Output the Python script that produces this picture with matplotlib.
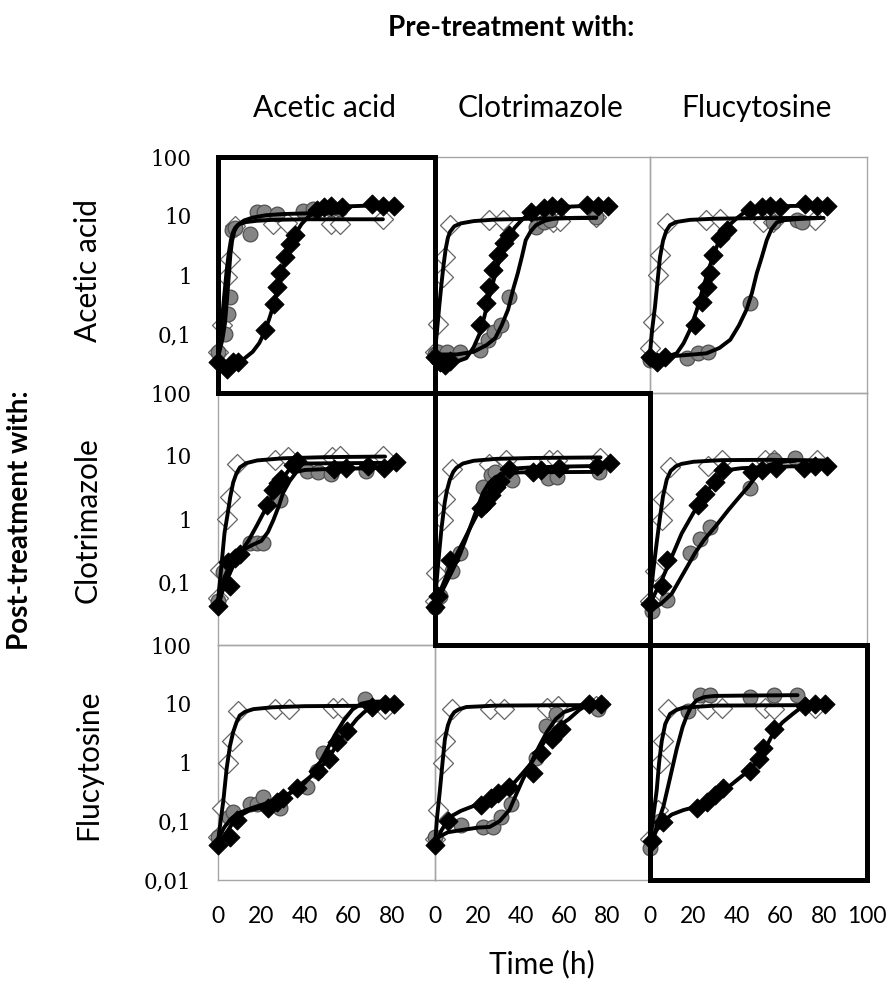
import matplotlib
matplotlib.use("Agg")
import matplotlib.pyplot as plt
from matplotlib import font_manager as fm

# ---------------- data ----------------
pre_treatments = ["Acetic acid", "Clotrimazole", "Flucytosine"]
post_treatments = ["Acetic acid", "Clotrimazole", "Flucytosine"]
ytick_vals = [0.01, 0.1, 1, 10, 100]
ytick_text = ["0,01", "0,1", "1", "10", "100"]
xtick_vals = [0, 20, 40, 60, 80, 100]

# panel p<row><col>: row = post-treatment, col = pre-treatment
# open diamonds / grey circles / black diamonds, measured points
p00_open_t = [0, 1.7, 4, 5.5, 8, 25.5, 32, 52, 56, 76]
p00_open_y = [0.05, 0.14, 0.92, 1.9, 6.9, 7.2, 7.5, 7.2, 7.2, 8.8]
p00_grey_t = [0, 3.2, 4.8, 5.5, 6.3, 8, 14.7, 17.8, 21, 27, 39, 44, 52, 56]
p00_grey_y = [0.05, 0.1, 0.22, 0.42, 5.7, 6.2, 5.0, 11.7, 11.7, 11, 12, 13, 13, 13]
p00_black_t = [0, 4, 7, 9, 21.6, 26, 27, 28.5, 31, 33, 35.5, 45.5, 49, 52, 57, 71, 76, 81]
p00_black_y = [0.033, 0.026, 0.033, 0.034, 0.115, 0.32, 0.62, 1.1, 2.0, 3.4, 4.7, 12.5, 14, 15, 14, 16, 15, 15]

p01_open_t = [0, 1.5, 3.8, 4.6, 6.9, 25.3, 31.5, 55, 58, 75]
p01_open_y = [0.05, 0.15, 0.93, 2.0, 7, 8.5, 8.5, 8, 8.3, 9.5]
p01_grey_t = [0, 1.5, 5.4, 11.5, 20.7, 24.6, 27.6, 30.7, 34.6, 46.9, 50.7, 53.7, 75]
p01_grey_y = [0.045, 0.05, 0.05, 0.05, 0.054, 0.08, 0.11, 0.14, 0.43, 6.6, 8, 8.5, 9.5]
p01_black_t = [0, 2.3, 4.6, 6.9, 20.7, 23.8, 25.3, 26.9, 29.2, 32.3, 34.6, 44.6, 50.7, 54.5, 58.4, 70.7, 76, 80.6]
p01_black_y = [0.04, 0.034, 0.03, 0.035, 0.14, 0.33, 0.63, 1.2, 2.2, 3.45, 4.8, 11.8, 13.5, 15, 14, 15.5, 15, 15]

p02_open_t = [0, 1.5, 3.8, 4.6, 7.7, 26, 32.3, 52.2, 56.8, 76]
p02_open_y = [0.057, 0.16, 1.0, 2.2, 7.5, 8.5, 9, 8, 8, 8.5]
p02_grey_t = [0, 16.9, 22.3, 26.9, 46, 56.8, 67.6, 70]
p02_grey_y = [0.036, 0.039, 0.047, 0.05, 0.33, 8, 8.5, 8]
p02_black_t = [0, 3.1, 6.9, 20.7, 23.8, 26.1, 27.6, 29.2, 32.3, 35.3, 46, 51.5, 55.3, 59.9, 71.4, 76.8, 81.4]
p02_black_y = [0.04, 0.033, 0.04, 0.14, 0.35, 0.63, 1.07, 2.2, 4.2, 5.8, 12.6, 14, 15, 14, 16, 15, 15]

p10_open_t = [0, 0.9, 4, 5.5, 8.6, 26.3, 32.4, 52.5, 56.4, 76.2]
p10_open_y = [0.055, 0.155, 1.0, 2.25, 7.6, 8.7, 9.7, 9.5, 10, 10]
p10_grey_t = [0, 2.3, 14.7, 17.8, 20.9, 28.6, 40.9, 46, 52, 68]
p10_grey_y = [0.05, 0.145, 0.41, 0.41, 0.42, 2.0, 5.8, 5.5, 5.2, 5.8]
p10_black_t = [0, 4.8, 5.5, 7.8, 10.1, 22.4, 25.5, 27.6, 29, 34.7, 36.2, 53.5, 58.9, 68.9, 76.5, 81.9]
p10_black_y = [0.041, 0.21, 0.085, 0.24, 0.28, 1.66, 2.9, 3.7, 4.3, 7.2, 8.2, 6.3, 6.5, 7, 6.5, 8]

p11_open_t = [0, 0.3, 3.8, 4.6, 7.7, 25.3, 33, 53, 56.8, 76.8]
p11_open_y = [0.05, 0.14, 0.96, 2.1, 6.3, 7.6, 8.7, 8.7, 8.7, 9.2]
p11_grey_t = [0, 2.3, 8, 11.5, 22.3, 26.1, 28, 36, 52.5, 56.8, 76.3]
p11_grey_y = [0.04, 0.06, 0.15, 0.29, 3.2, 5, 5.5, 4.2, 4.4, 4.6, 5.6]
p11_black_t = [0, 1.5, 6.9, 21.5, 23.8, 26, 28.4, 30, 34.6, 45.6, 49.5, 57.9, 75.3, 81.3]
p11_black_y = [0.04, 0.06, 0.22, 1.47, 1.78, 2.4, 3.2, 4, 6.3, 5.5, 6, 6.5, 7, 7.8]

p12_open_t = [0, 2.3, 5.4, 6.2, 9.2, 26.9, 33.1, 53, 57, 77]
p12_open_y = [0.05, 0.15, 0.96, 2.1, 6.8, 7, 8.7, 8.7, 8.7, 8.7]
p12_grey_t = [1, 7.7, 18.5, 23, 27.7, 46.2, 57, 67]
p12_grey_y = [0.035, 0.052, 0.29, 0.49, 0.76, 3.1, 8.7, 9.3]
p12_black_t = [0, 5.4, 7.7, 22.3, 25.4, 30, 33.8, 47, 51.5, 58, 70.8, 76, 81.5]
p12_black_y = [0.045, 0.085, 0.22, 1.66, 2.5, 3.9, 6, 5.5, 6, 6.5, 6.5, 7, 7]

p20_open_t = [0, 1.7, 4.8, 6.3, 9.4, 26.3, 32.5, 53, 57, 77]
p20_open_y = [0.054, 0.165, 1.0, 2.3, 7.6, 8.2, 8.2, 8.5, 8.5, 8.2]
p20_grey_t = [0, 5, 7.1, 14.8, 17.8, 20.9, 28.6, 40.9, 45.5, 48.6, 67.8]
p20_grey_y = [0.055, 0.12, 0.145, 0.2, 0.2, 0.26, 0.165, 0.39, 0.71, 1.47, 12.2]
p20_black_t = [0, 5.5, 8.6, 23.2, 27, 30, 36.3, 46.3, 51, 54.8, 59.4, 71, 77, 81]
p20_black_y = [0.039, 0.055, 0.104, 0.165, 0.21, 0.25, 0.37, 0.71, 1.13, 2.2, 3.5, 8.8, 10, 10]

p21_open_t = [0, 1.5, 3.8, 4.6, 7.7, 25.4, 32.3, 52.3, 57, 75]
p21_open_y = [0.05, 0.155, 1.0, 2.3, 8.2, 8.2, 8.2, 8.5, 9.3, 9]
p21_grey_t = [0, 12.3, 22.3, 27, 30.8, 35.4, 47, 51.5, 56.2, 76]
p21_grey_y = [0.055, 0.085, 0.08, 0.08, 0.118, 0.2, 1.2, 4.2, 6.7, 8.2]
p21_black_t = [0, 6.2, 21.5, 26.2, 29.2, 34.6, 45.4, 49.2, 54.6, 58.5, 71.5, 77]
p21_black_y = [0.04, 0.1, 0.19, 0.25, 0.3, 0.39, 0.66, 1.47, 2.5, 3.7, 10, 10]

p22_open_t = [0, 3.8, 4.6, 6.2, 8.5, 26.2, 33, 53, 57, 76]
p22_open_y = [0.05, 0.155, 1.0, 2.3, 8.2, 8.2, 8.5, 8.5, 8.2, 8.5]
p22_grey_t = [0, 4.6, 17.7, 23, 27.7, 46, 57, 67.7]
p22_grey_y = [0.035, 0.1, 7.6, 13.9, 13.9, 13, 14, 14]
p22_black_t = [0.8, 6.2, 21.5, 26.2, 30, 33.8, 46.2, 50, 52.3, 57, 71.5, 76.2, 80.8]
p22_black_y = [0.047, 0.098, 0.165, 0.21, 0.28, 0.37, 0.71, 1.13, 1.78, 3.7, 9, 10, 10]

# fitted curves
p00_open_fit_t = [0, 1, 2, 3, 4, 5, 6, 7, 8, 10, 13, 18, 25, 40, 76]
p00_open_fit_y = [0.045, 0.09, 0.2, 0.5, 1.2, 2.4, 4, 5.4, 6.4, 7.3, 7.9, 8.3, 8.6, 8.8, 8.8]
p00_grey_fit_t = [0, 2, 3.2, 4.2, 5, 5.7, 6.5, 7.5, 9, 12, 16, 22, 30, 45, 56]
p00_grey_fit_y = [0.04, 0.08, 0.15, 0.4, 1, 2.2, 3.8, 5.5, 7, 8.4, 9.4, 10.3, 10.8, 11.2, 11.4]
p00_black_fit_t = [0, 4, 8, 12, 16, 19, 21.6, 24, 26, 28, 30, 32, 34, 36, 38.5, 42, 46, 52, 60, 70, 81]
p00_black_fit_y = [0.035, 0.03, 0.032, 0.038, 0.05, 0.07, 0.11, 0.2, 0.35, 0.7, 1.3, 2.2, 3.5, 5.2, 7.3, 10, 12.2, 13.8, 14.6, 15, 15.2]

p01_open_fit_t = [0, 1, 2, 3, 4, 5, 6, 7, 9, 12, 18, 28, 45, 75]
p01_open_fit_y = [0.05, 0.12, 0.3, 0.7, 1.5, 2.8, 4.3, 5.4, 6.7, 7.5, 8.2, 8.7, 9, 9.3]
p01_grey_fit_t = [0, 10, 18, 24, 28, 31, 34, 36.5, 38.5, 40.5, 42.2, 44.5, 47, 51, 56, 65, 75]
p01_grey_fit_y = [0.045, 0.045, 0.05, 0.065, 0.085, 0.14, 0.26, 0.6, 1.07, 2.1, 3.9, 5.5, 7, 8.3, 9.1, 9.3, 9.4]
p01_black_fit_t = [0, 5, 10, 14.6, 18, 20.7, 23, 25, 26.9, 29, 31, 33, 34.6, 37, 40, 43.8, 47, 51.5, 60, 70, 81]
p01_black_fit_y = [0.035, 0.032, 0.034, 0.039, 0.06, 0.1, 0.2, 0.4, 0.72, 1.4, 2.3, 3.4, 4.5, 6.3, 8.3, 11, 12.3, 13.5, 14.3, 14.8, 15]

p02_open_fit_t = [0, 1, 2.3, 3.5, 4.6, 6, 7.5, 9.2, 12, 18.4, 30, 50, 78]
p02_open_fit_y = [0.047, 0.12, 0.29, 0.8, 2, 3.8, 5.6, 7, 7.9, 8.6, 9, 9.2, 9.3]
p02_grey_fit_t = [0, 10, 20, 26, 32, 37, 41, 44.5, 47, 49.2, 51.5, 53.8, 56, 58.4, 62, 69, 80]
p02_grey_fit_y = [0.04, 0.042, 0.045, 0.047, 0.058, 0.08, 0.14, 0.26, 0.5, 1.07, 2, 3.9, 6, 7.8, 8.5, 8.9, 9.3]
p02_black_fit_t = [0, 5, 12.3, 15.5, 18.4, 21.5, 24.6, 27.5, 30.7, 33.5, 36.5, 39.9, 43.5, 47.6, 55, 65, 83]
p02_black_fit_y = [0.04, 0.038, 0.047, 0.07, 0.117, 0.25, 0.63, 1.4, 3.0, 5, 7, 9.1, 11.5, 13.5, 14.4, 14.8, 15]

p10_open_fit_t = [0, 1.5, 3, 4.6, 5.6, 7, 8.5, 10.1, 13, 18, 30, 50, 77]
p10_open_fit_y = [0.05, 0.17, 0.6, 1.3, 2.2, 3.8, 5.3, 6.6, 7.7, 8.5, 9.2, 9.6, 9.8]
p10_grey_fit_t = [0, 3, 6, 9, 12, 16, 20, 23, 25.5, 28, 30, 33, 36.2, 40, 50, 70, 80]
p10_grey_fit_y = [0.05, 0.12, 0.2, 0.27, 0.33, 0.39, 0.45, 0.62, 0.96, 1.6, 2.6, 4, 5.6, 6, 6.2, 6.4, 6.6]
p10_black_fit_t = [0, 2, 4, 7, 10.1, 14, 18, 22.4, 26, 30, 33, 36, 40, 60, 82]
p10_black_fit_y = [0.04, 0.07, 0.107, 0.18, 0.29, 0.45, 0.8, 1.55, 2.7, 4.5, 6.2, 7.3, 7.6, 7.7, 7.8]

p11_open_fit_t = [0, 1.5, 3, 4.5, 5.5, 6.9, 8.5, 10, 13, 18, 28.4, 45, 77]
p11_open_fit_y = [0.05, 0.2, 0.7, 1.8, 2.8, 4.2, 5.6, 6.5, 7.6, 8.4, 9.0, 9.3, 9.5]
p11_grey_fit_t = [0, 4, 8, 11.5, 14, 17, 20, 22.3, 25, 28, 31.5, 36, 40, 77]
p11_grey_fit_y = [0.04, 0.08, 0.15, 0.27, 0.45, 0.85, 1.6, 2.6, 3.7, 4.6, 5.2, 5.4, 5.5, 5.6]
p11_black_fit_t = [0, 3, 6.9, 10, 14, 17, 20.7, 24, 27, 30, 33, 36, 45, 60, 81]
p11_black_fit_y = [0.04, 0.08, 0.17, 0.27, 0.5, 0.8, 1.4, 2.1, 3.2, 4.4, 5.7, 6.3, 6.6, 6.8, 7]

p12_open_fit_t = [0, 1.5, 3, 4.5, 6, 7.7, 9.5, 12, 14.6, 20, 33, 55, 81.5]
p12_open_fit_y = [0.05, 0.15, 0.4, 1, 2.3, 4.2, 5.8, 6.9, 7.5, 8.1, 8.6, 8.7, 8.5]
p12_grey_fit_t = [0, 5, 10, 15, 20.8, 25, 30, 36.2, 41, 45.4, 48.5, 51.5, 55, 60, 67]
p12_grey_fit_y = [0.035, 0.045, 0.065, 0.13, 0.29, 0.47, 0.75, 1.4, 2.2, 3.3, 4.6, 6, 7.2, 8.0, 8.4]
p12_black_fit_t = [0, 2.7, 5.4, 10, 14.6, 20, 26.9, 31, 36.2, 42, 60, 82]
p12_black_fit_y = [0.045, 0.07, 0.107, 0.25, 0.59, 1.25, 2.9, 4.5, 6, 6.4, 6.8, 7]

p20_open_fit_t = [0, 1.2, 2.5, 4, 5.5, 7, 8.5, 10, 12.5, 16.3, 25, 40, 80]
p20_open_fit_y = [0.045, 0.1, 0.23, 0.8, 1.9, 3.3, 4.8, 6.3, 7.3, 8.1, 8.7, 9.1, 9.3]
p20_grey_fit_t = [0, 3, 6, 10, 16, 22, 28, 34, 40, 44, 47, 50, 54, 58, 62, 66, 70, 80]
p20_grey_fit_y = [0.05, 0.08, 0.11, 0.14, 0.17, 0.2, 0.24, 0.31, 0.45, 0.65, 1.0, 1.6, 3, 5.2, 8, 10, 10.8, 11]
p20_black_fit_t = [0, 4, 7.1, 11, 14.8, 20, 26, 32, 38, 44, 50, 54, 58, 61, 64, 67, 70.2, 75, 82]
p20_black_fit_y = [0.04, 0.065, 0.097, 0.13, 0.155, 0.17, 0.21, 0.28, 0.42, 0.63, 1.05, 1.8, 3, 4, 5.5, 7, 8.8, 9.8, 10]

p21_open_fit_t = [0, 1, 2.3, 3.5, 4.6, 6, 7.5, 9, 11, 14.6, 28.5, 50, 76]
p21_open_fit_y = [0.04, 0.12, 0.34, 1, 2.5, 4.3, 6, 7.2, 8, 8.8, 9.3, 9.4, 9.5]
p21_grey_fit_t = [0, 6, 11.5, 20, 25.4, 30, 34.6, 38, 40.8, 44.5, 48.5, 52, 56.2, 60, 66.9, 76]
p21_grey_fit_y = [0.05, 0.065, 0.07, 0.078, 0.08, 0.1, 0.155, 0.3, 0.51, 0.95, 1.9, 3.3, 5.5, 7.2, 8.8, 9.3]
p21_black_fit_t = [0, 3, 6.9, 12, 20.8, 28, 35, 40.8, 45, 48, 51.5, 56, 62.3, 67, 71.5, 80]
p21_black_fit_y = [0.04, 0.07, 0.118, 0.15, 0.2, 0.27, 0.38, 0.66, 1.0, 1.5, 2.5, 3.8, 5.5, 7.8, 10, 10.5]

p22_open_fit_t = [0, 1.5, 3.1, 4.2, 5.4, 7, 9.2, 12, 15.4, 30, 77]
p22_open_fit_y = [0.04, 0.12, 0.34, 1, 2.3, 4.5, 6.7, 7.8, 8.6, 9.3, 9.5]
p22_grey_fit_t = [0, 3, 6.2, 9, 12.3, 15, 17, 19, 21.5, 25, 30, 45, 68]
p22_grey_fit_y = [0.035, 0.08, 0.18, 0.5, 1.7, 4, 6.3, 9, 11.5, 13, 13.6, 13.8, 14]
p22_black_fit_t = [0, 3, 6.2, 10, 15.4, 22, 28, 34, 40, 46, 50, 53, 56.9, 61, 66, 70.8, 76, 81]
p22_black_fit_y = [0.04, 0.07, 0.1, 0.13, 0.155, 0.18, 0.23, 0.33, 0.5, 0.75, 1.1, 1.7, 3.2, 4.8, 6.8, 9.3, 9.9, 10]

# ---------------- assembly ----------------
g = globals()
panels = {}
for r in range(3):
    for c in range(3):
        k = f"p{r}{c}"
        panels[(r, c)] = {s: (g[f"{k}_{s}_t"], g[f"{k}_{s}_y"],
                              g[f"{k}_{s}_fit_t"], g[f"{k}_{s}_fit_y"])
                          for s in ("open", "grey", "black")}

# ---------------- style ----------------
avail = {f.name for f in fm.fontManager.ttflist}
SANS = "Lato" if "Lato" in avail else "DejaVu Sans"
SERIF = "DejaVu Serif"

W, H = 892, 984
fig = plt.figure(figsize=(W / 100, H / 100), dpi=100)
fig.patch.set_facecolor("white")

col_left = [218, 435, 650]
col_right = [435, 650, 867]
row_top = [157, 393, 645]
row_bot = [393, 645, 880]

marker_style = {
    "open": dict(marker="D", s=10.2 ** 2, facecolor="white", edgecolor="#666666", linewidth=0.9, zorder=3),
    "grey": dict(marker="o", s=10.6 ** 2, facecolor="#858585", edgecolor="#505050", linewidth=0.9, zorder=4),
    "black": dict(marker="D", s=9.6 ** 2, facecolor="black", edgecolor="black", linewidth=0.8, zorder=5),
}

axes = {}
order = [(r, c) for r in range(3) for c in range(3) if r != c] + [(i, i) for i in range(3)]
for (r, c) in order:
    x0 = col_left[c] / W
    w = (col_right[c] - col_left[c]) / W
    y0 = 1 - row_bot[r] / H
    h = (row_bot[r] - row_top[r]) / H
    ax = fig.add_axes([x0, y0, w, h])
    ax.set_facecolor("none")
    ax.set_yscale("log")
    ax.set_xlim(0, 100)
    ax.set_ylim(0.01, 100)
    ax.minorticks_off()
    data = panels[(r, c)]
    for s in ("open", "grey", "black"):
        t, y, ft, fy = data[s]
        ax.scatter(t, y, clip_on=False, **marker_style[s])
    for s in ("open", "grey", "black"):
        t, y, ft, fy = data[s]
        ax.plot(ft, fy, color="black", lw=2.8, solid_capstyle="round",
                solid_joinstyle="round", zorder=6, clip_on=False)
    diag = (r == c)
    for sp in ax.spines.values():
        if diag:
            sp.set_color("black")
            sp.set_linewidth(3.6)
            sp.set_zorder(8)
        else:
            sp.set_color("#a6a6a6")
            sp.set_linewidth(1.0)
            sp.set_zorder(2)
    ax.tick_params(length=0)
    if c == 0:
        if r == 2:
            vals, labs = ytick_vals, ytick_text
        else:
            vals, labs = ytick_vals[1:], ytick_text[1:]
        ax.set_yticks(vals)
        ax.set_yticklabels(labs, fontfamily=SERIF, fontsize=15.5)
        ax.tick_params(axis="y", pad=19)
    else:
        ax.set_yticks([])
    if r == 2:
        xv = xtick_vals if c == 2 else xtick_vals[:-1]
        ax.set_xticks(xv)
        ax.set_xticklabels([str(v) for v in xv], fontfamily=SANS, fontsize=16.5)
        ax.tick_params(axis="x", pad=19)
    else:
        ax.set_xticks([])
    axes[(r, c)] = ax

# ---------------- texts ----------------
def fx(px):
    return px / W

def fy(py):
    return 1 - py / H

fig.text(fx(511), fy(28), "Pre-treatment with:", fontfamily=SANS, fontweight="bold",
         fontsize=20, ha="center", va="center")
for c, name in enumerate(pre_treatments):
    fig.text(fx((col_left[c] + col_right[c]) / 2 - 2), fy(108), name, fontfamily=SANS,
             fontsize=21.5, ha="center", va="center")
fig.text(fx(20), fy(520), "Post-treatment with:", fontfamily=SANS, fontweight="bold",
         fontsize=20, ha="center", va="center", rotation=90)
row_centers = [270, 520, 765]
for r, name in enumerate(post_treatments):
    fig.text(fx(88), fy(row_centers[r]), name, fontfamily=SANS, fontsize=21.5,
             ha="center", va="center", rotation=90)
fig.text(fx(542), fy(964), "Time (h)", fontfamily=SANS, fontsize=21.5,
         ha="center", va="center")

fig.savefig("out.png", dpi=100, facecolor="white")
